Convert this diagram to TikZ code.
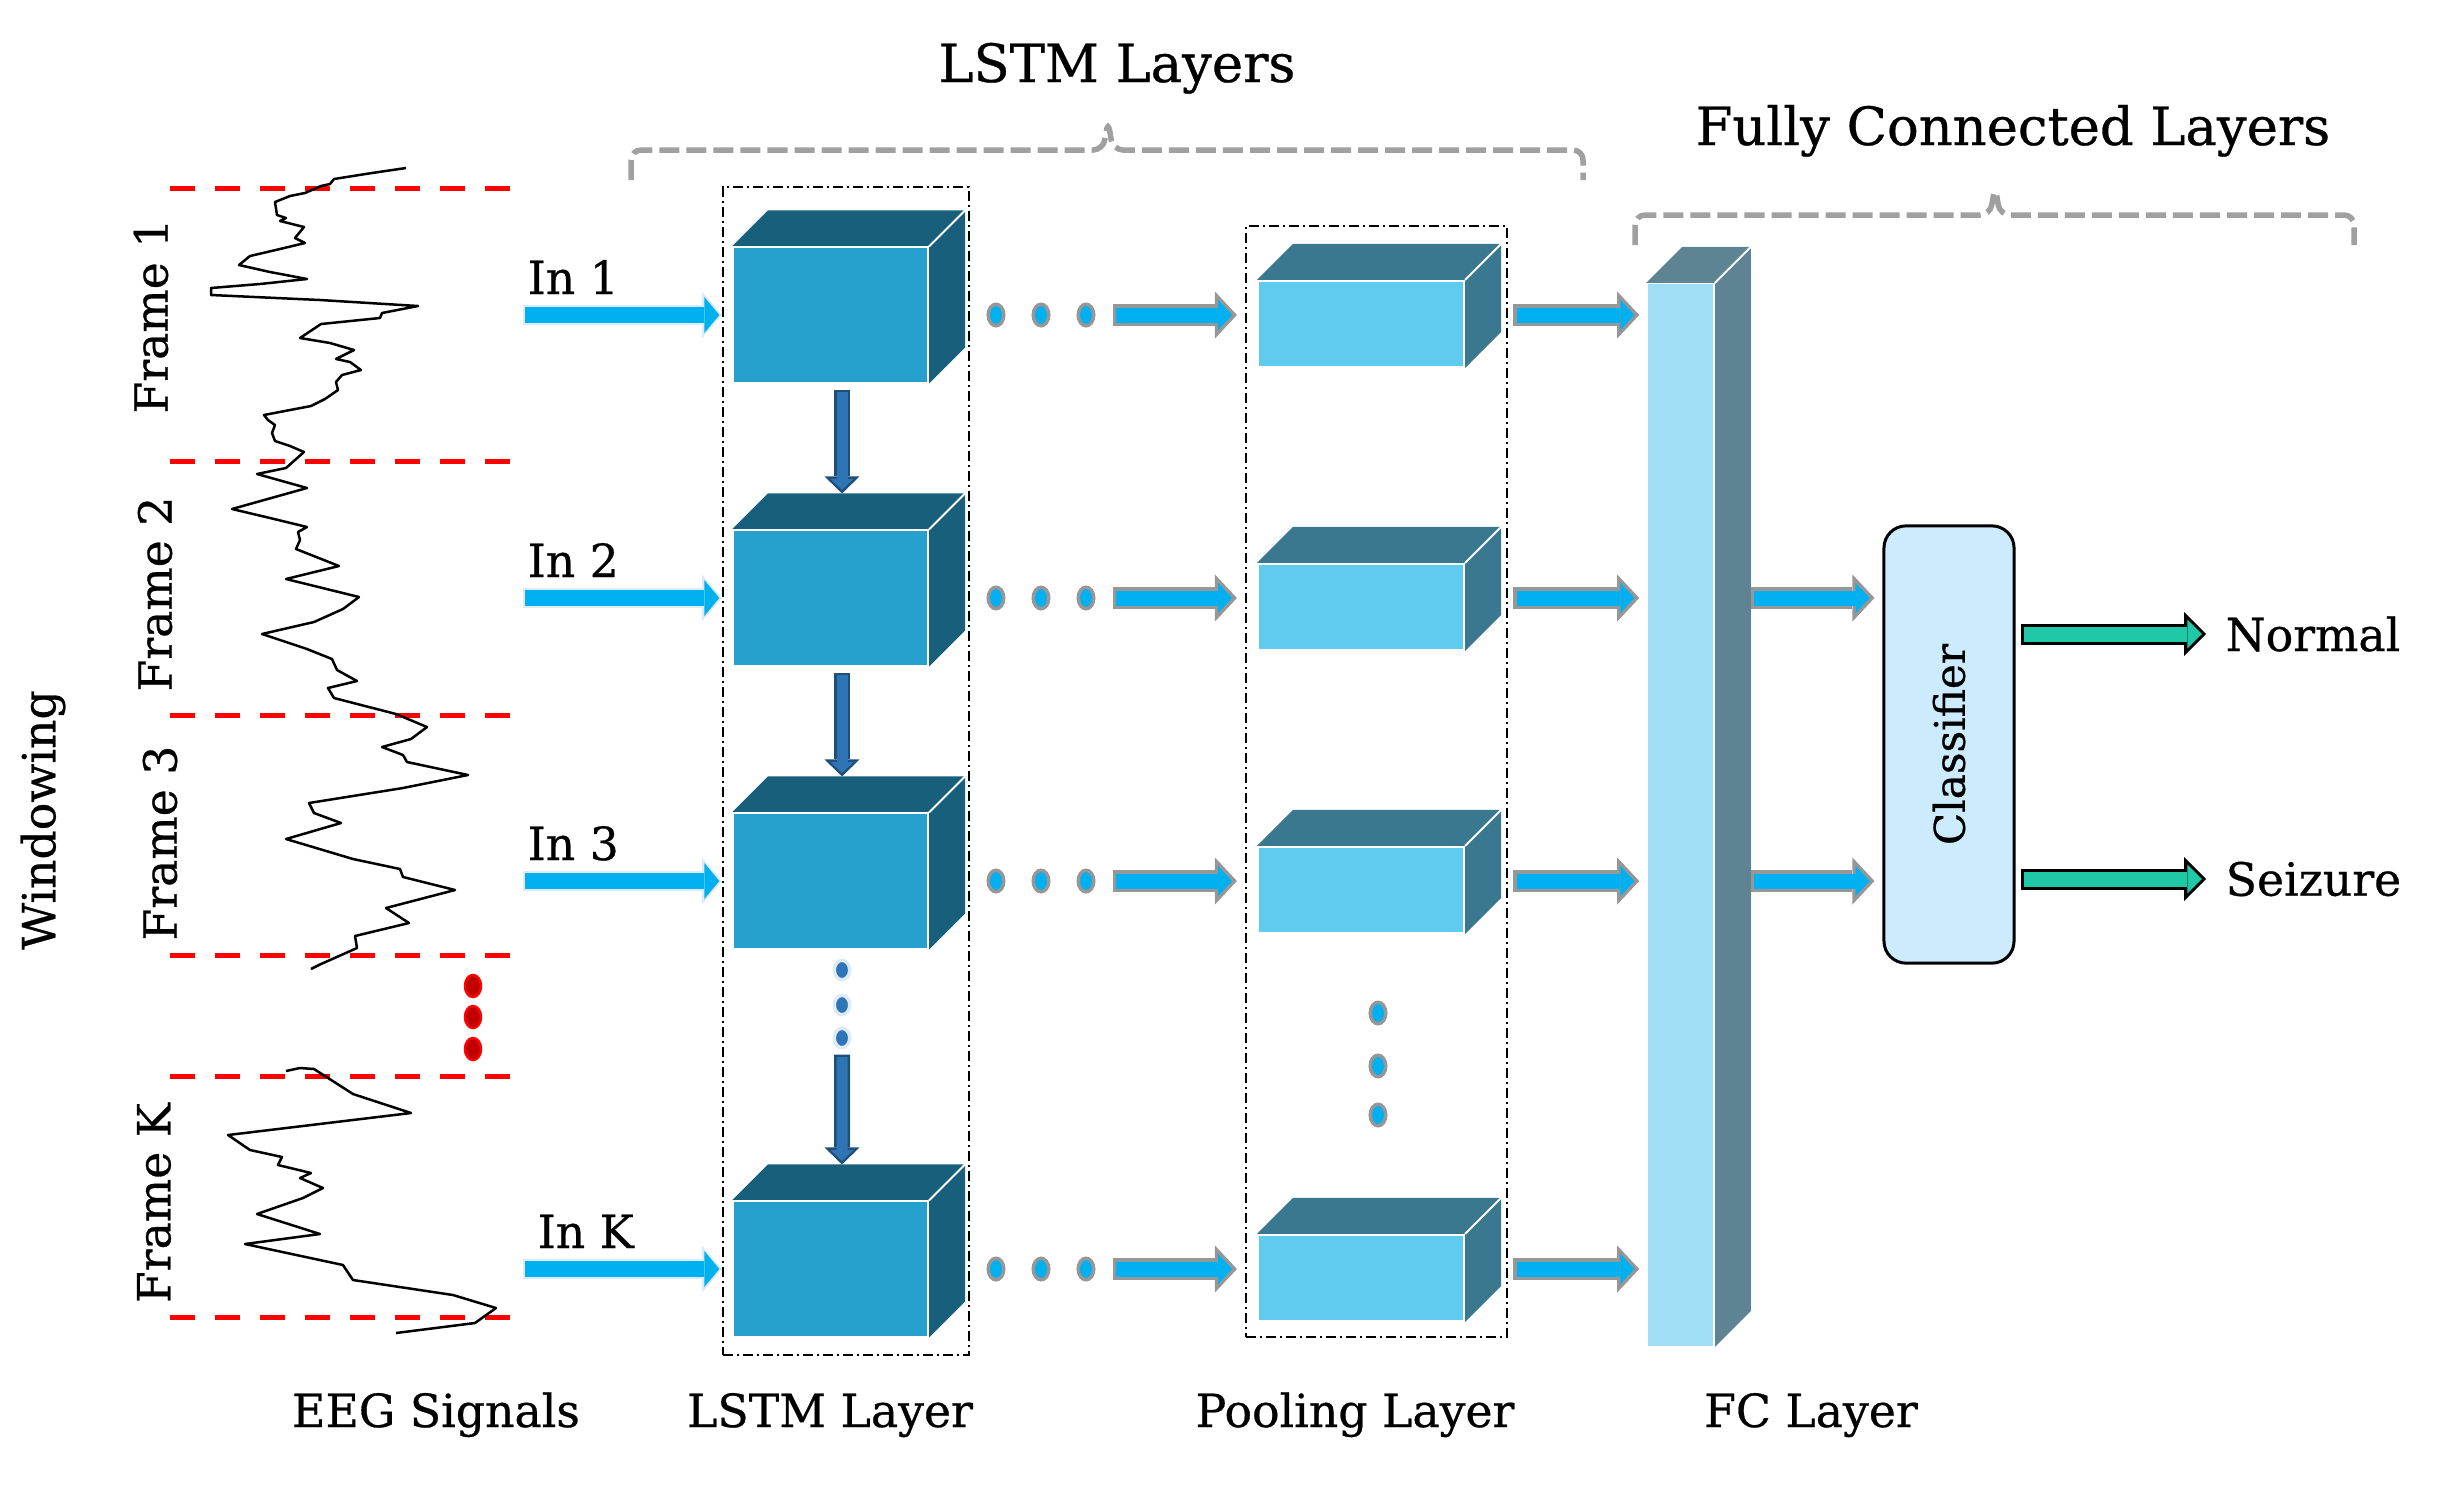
\documentclass[tikz,border=0pt]{standalone}
\usepackage{fontspec}
\setmainfont{DejaVu Serif}[FakeBold=0.6]
\usepackage{tikz}
\usetikzlibrary{arrows.meta,shapes.geometric,backgrounds,calc}
\definecolor{rojo}{HTML}{FF0000}
\definecolor{rojooscuro}{HTML}{C00000}
\definecolor{celeste}{HTML}{00B0F0}
\definecolor{gris}{HTML}{979797}
\definecolor{grisllave}{HTML}{A0A0A0}
\definecolor{bordeclaro}{HTML}{DDEBF7}
\definecolor{azul}{HTML}{2E75B6}
\definecolor{azulborde}{HTML}{1F4E79}
\definecolor{verde}{HTML}{21C8A7}
\definecolor{lstmfrente}{HTML}{28A0CE}
\definecolor{lstmlado}{HTML}{185F7B}
\definecolor{poolfrente}{HTML}{5FCBEE}
\definecolor{poollado}{HTML}{3A788F}
\definecolor{fcfrente}{HTML}{A0DFF5}
\definecolor{fclado}{HTML}{5E8493}
\definecolor{clasiffondo}{HTML}{CCEBFC}
\tikzset{
  etiqueta/.style={font=\fontsize{13}{15}\selectfont,inner sep=0pt},
  titulo/.style={font=\fontsize{15}{18}\selectfont,inner sep=0pt},
  corte/.style={draw=rojo,line width=0.5mm,dash pattern=on 2.5mm off 2mm},
  senal/.style={draw=black,line width=0.25mm,line join=round},
  llave/.style={draw=grisllave,line width=0.55mm,dash pattern=on 2mm off 0.7mm,rounded corners=1mm},
  marco/.style={draw=black,line width=0.2mm,dash pattern=on 1mm off 0.4mm on 0.2mm off 0.4mm,inner sep=0pt},
  flechagris/.style={draw=celeste,line width=1.5mm,shorten <=0.35mm,shorten >=0.48mm,
    -{Triangle[length=1.4mm,width=3mm,line width=0pt]},
    preaction={draw=gris,line width=2.2mm,shorten <=0mm,shorten >=0mm,-{Triangle[length=2.2mm,width=4.7mm,line width=0pt]}}},
  flechaclara/.style={draw=celeste,line width=1.6mm,shorten <=0.2mm,shorten >=0.26mm,
    -{Triangle[length=1.5mm,width=3.6mm,line width=0pt]},
    preaction={draw=bordeclaro,line width=2mm,shorten <=0mm,shorten >=0mm,-{Triangle[length=2mm,width=4.7mm,line width=0pt]}}},
  flechaverde/.style={draw=verde,line width=1.5mm,shorten <=0.3mm,shorten >=0.42mm,
    -{Triangle[length=1.45mm,width=2.9mm,line width=0pt]},
    preaction={draw=black,line width=2.1mm,shorten <=0mm,shorten >=0mm,-{Triangle[length=2.2mm,width=4.4mm,line width=0pt]}}},
  flechaoscura/.style={draw=azul,line width=1.1mm,shorten <=0.25mm,shorten >=0.35mm,
    -{Triangle[length=1.1mm,width=2.3mm,line width=0pt]},
    preaction={draw=azulborde,line width=1.6mm,shorten <=0mm,shorten >=0mm,-{Triangle[length=1.7mm,width=3.5mm,line width=0pt]}}},
}

\begin{document}
\begin{tikzpicture}[x=0.01cm,y=-0.01cm,
  cubolstm/.style={draw=white,line width=0.2mm,fill=lstmfrente,minimum width=1.95cm,minimum height=1.35cm,inner sep=0pt},
  cubopool/.style={draw=white,line width=0.2mm,fill=poolfrente,minimum width=2.06cm,minimum height=0.86cm,inner sep=0pt},
  punto/.style={ellipse,draw=gris,line width=0.35mm,fill=celeste,minimum width=1.55mm,minimum height=2.15mm,inner sep=0pt},
  puntoazul/.style={punto,draw=bordeclaro,fill=azul,minimum height=1.95mm},
  puntorojo/.style={punto,draw=rojo,fill=rojooscuro,line width=0.25mm,minimum width=1.6mm,minimum height=2.2mm},
  clasificador/.style={draw=black,line width=0.3mm,fill=clasiffondo,rounded corners=2.2mm,rotate=90,
    minimum width=4.37cm,minimum height=1.3cm,font=\fontsize{12}{14}\selectfont}]
  \useasboundingbox (0,0) rectangle (2448,1490);
  \node[titulo,anchor=base] (tlstm) at (1117,82) {LSTM Layers};
  \node[titulo,anchor=base] (tfc) at (2013,145) {Fully Connected Layers};
  \draw[llave] (631,180) -- (631,150) -- (1103,150) -- (1108,121) -- (1113,150) -- (1583,150) -- (1583,180);
  \draw[llave] (1635,245) -- (1635,215) -- (1990,215) -- (1995,186) -- (2000,215) -- (2354,215) -- (2354,245);
  % ventanas de la senal
  \foreach \y in {188,461,715,955,1076,1317}
    \draw[corte] (170,\y) -- (513,\y);
  \node[etiqueta,rotate=90] (vent) at (43,820) {Windowing};
  \node[etiqueta,rotate=90] (f1) at (151,316) {Frame 1};
  \node[etiqueta,rotate=90] (f2) at (155,594) {Frame 2};
  \node[etiqueta,rotate=90] (f3) at (160,843) {Frame 3};
  \node[etiqueta,rotate=90] (fk) at (154,1203) {Frame K};
  \foreach \y [count=\j] in {986,1017,1049}
    \node[puntorojo] (pr\j) at (473,\y) {};
  \draw[senal] plot coordinates {(406,168) (372,173) (334,179) (330,184) (321,186) (305,193) (290,196) (275,202)
    (277,215) (286,218) (280,221) (304,227) (295,238) (305,243) (280,249) (250,256) (239,265) (270,272) (307,279)
    (260,284) (211,288) (211,295) (320,300) (418,306) (382,313) (380,318) (321,324) (300,338) (330,343) (354,350)
    (336,359) (350,362) (361,370) (342,375) (336,382) (338,390) (325,399) (311,406) (264,415) (268,420) (275,425)
    (272,433) (275,441) (290,446) (304,452) (286,468) (257,474) (307,488) (232,509) (270,518) (307,527) (298,532)
    (300,540) (296,549) (339,566) (286,579) (359,597) (343,609) (314,622) (262,634) (307,649) (332,659) (337,670)
    (357,681) (328,688) (334,698) (396,714) (427,727) (411,739) (382,747) (403,755) (407,762) (468,775) (403,788)
    (309,803) (314,813) (341,823) (286,839) (353,859) (400,869) (403,877) (455,890) (386,908) (409,923) (355,936)
    (357,948) (321,964) (311,969)};
  \draw[senal] plot coordinates {(286,1071) (300,1068) (314,1069) (353,1094) (411,1113) (228,1135) (250,1150)
    (282,1157) (278,1165) (311,1173) (300,1178) (323,1188) (303,1198) (257,1214) (320,1234) (245,1244) (343,1265)
    (353,1280) (453,1295) (496,1308) (475,1323) (396,1333)};
  % capas
  \node[marco,minimum width=2.46cm,minimum height=11.68cm] (cajalstm) at (846,771) {};
  \node[marco,minimum width=2.61cm,minimum height=11.11cm] (cajapool) at (1376.5,781.5) {};
  \foreach \i/\y in {1/315,2/598,3/881,k/1269} {
    \node[cubolstm] (lstm\i) at (830.5,\y) {};
    \node[cubopool] (pool\i) at (1361,\y+9) {};
    \foreach \x [count=\j] in {996,1041,1086}
      \node[punto] (pt\i\j) at (\x,\y) {};
    \coordinate (ent\i) at (523,\y);
  }
  \node[draw=white,line width=0.15mm,fill=fcfrente,minimum width=0.67cm,minimum height=10.62cm,inner sep=0pt] (fc) at (1680.5,815) {};
  \node[clasificador] (clasif) at (1949,744.5) {Classifier};
  \begin{scope}[on background layer]
    \foreach \c/\col in {lstm1/lstmlado,lstm2/lstmlado,lstm3/lstmlado,lstmk/lstmlado,
        pool1/poollado,pool2/poollado,pool3/poollado,poolk/poollado,fc/fclado}
      \fill[\col] (\c.north west) -- ++(36,-36) -- ($(\c.north east)+(36,-36)$) -- ($(\c.south east)+(36,-36)$)
        -- (\c.south east) -- (\c.north east) -- cycle;
  \end{scope}
  \foreach \c in {lstm1,lstm2,lstm3,lstmk,pool1,pool2,pool3,poolk,fc}
    \draw[white,line width=0.2mm] (\c.north east) -- ++(36,-36);
  \foreach \y [count=\j] in {970,1005,1038}
    \node[puntoazul] (pv\j) at (842,\y) {};
  \foreach \y [count=\j] in {1013,1066,1115}
    \node[punto] (pp\j) at (1378,\y) {};
  % entradas y conexiones
  \node[etiqueta,anchor=base west] (in1) at (527,294) {In 1};
  \node[etiqueta,anchor=base west] (in2) at (527,577) {In 2};
  \node[etiqueta,anchor=base west] (in3) at (527,860) {In 3};
  \node[etiqueta,anchor=base west] (ink) at (537,1248) {In K};
  \foreach \i in {1,2,3,k} {
    \draw[flechaclara] (ent\i) -- ([xshift=-1mm]lstm\i.west);
    \draw[flechagris] ($(pt\i3.east)+(17,0)$) -- ($(pool\i.west |- ent\i)+(-20,0)$);
    \draw[flechagris] ($(pool\i.east |- ent\i)+(48,0)$) -- ($(fc.west |- ent\i)+(-7,0)$);
  }
  \draw[flechaoscura] ([xshift=1.15mm,yshift=-0.6mm]lstm1.south) -- ([xshift=1.15mm,yshift=3.6mm]lstm2.north);
  \draw[flechaoscura] ([xshift=1.15mm,yshift=-0.6mm]lstm2.south) -- ([xshift=1.15mm,yshift=3.6mm]lstm3.north);
  \draw[flechaoscura] ([yshift=-0.5mm]pv3.south) -- ([xshift=1.15mm,yshift=3.6mm]lstmk.north);
  \draw[flechagris] ($(fc.east |- ent2)+(36,0)$) -- ($(clasif.north |- ent2)+(-8,0)$);
  \draw[flechagris] ($(fc.east |- ent3)+(36,0)$) -- ($(clasif.north |- ent3)+(-8,0)$);
  \node[etiqueta,anchor=west] (normal) at (2225,634) {Normal};
  \node[etiqueta,anchor=west] (crisis) at (2225,879) {Seizure};
  \draw[flechaverde] ($(clasif.south |- normal)+(5,0)$) -- ($(normal.west)+(-19,0)$);
  \draw[flechaverde] ($(clasif.south |- crisis)+(5,0)$) -- ($(crisis.west)+(-19,0)$);
  % rotulos inferiores
  \node[etiqueta,anchor=base] (eeg) at (436,1427) {EEG Signals};
  \node[etiqueta,anchor=base] (rlstm) at (830,1427) {LSTM Layer};
  \node[etiqueta,anchor=base] (rpool) at (1355,1427) {Pooling Layer};
  \node[etiqueta,anchor=base] (rfc) at (1811,1427) {FC Layer};
\end{tikzpicture}
\end{document}
